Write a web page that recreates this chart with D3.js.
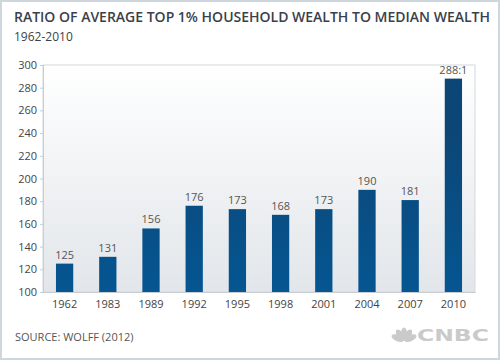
<!DOCTYPE html>
<html>
<head>
<meta charset="utf-8">
<script src="https://cdn.jsdelivr.net/npm/d3@7"></script>
<style>
  body { margin: 0; background: #fff; }
  svg { display: block; font-family: "Open Sans", sans-serif; }
</style>
</head>
<body>
<div id="chart"></div>
<script>
// data
const years = ["1962", "1983", "1989", "1992", "1995", "1998", "2001", "2004", "2007", "2010"];
const ratios = [125, 131, 156, 176, 173, 168, 173, 190, 181, 288];
const valueLabels = ["125", "131", "156", "176", "173", "168", "173", "190", "181", "288:1"];
const yTicks = [100, 120, 140, 160, 180, 200, 220, 240, 260, 280, 300];

const W = 500, H = 360;
const margin = { top: 65, right: 25, bottom: 68, left: 43 };
const width = W - margin.left - margin.right,
	height = H - margin.top - margin.bottom;

const svg = d3.select("#chart")
	.append("svg")
	.attr("width", W)
	.attr("height", H);

const defs = svg.append("defs");
const bg = defs.append("linearGradient").attr("id", "bg")
	.attr("x1", 0).attr("y1", 0).attr("x2", 0).attr("y2", 1);
bg.append("stop").attr("offset", "0%").attr("stop-color", "#ffffff");
bg.append("stop").attr("offset", "100%").attr("stop-color", "#e2e6ea");

const barGrad = defs.append("linearGradient").attr("id", "bar")
	.attr("gradientUnits", "userSpaceOnUse")
	.attr("x1", 0).attr("y1", margin.top).attr("x2", 0).attr("y2", margin.top + height);
barGrad.append("stop").attr("offset", "0%").attr("stop-color", "#0c4676");
barGrad.append("stop").attr("offset", "100%").attr("stop-color", "#025c9d");

// outer frame
svg.append("rect")
	.attr("x", 1).attr("y", 1)
	.attr("width", W - 2).attr("height", H - 2)
	.attr("fill", "#fff")
	.attr("stroke", "#cfd7de")
	.attr("stroke-width", 2);

// titles
svg.append("text")
	.attr("x", 14).attr("y", 22)
	.attr("font-size", 14)
	.attr("font-weight", 600)
	.attr("fill", "#3b3f4a")
	.attr("textLength", 476)
	.attr("lengthAdjust", "spacingAndGlyphs")
	.text("RATIO OF AVERAGE TOP 1% HOUSEHOLD WEALTH TO MEDIAN WEALTH");

svg.append("text")
	.attr("x", 14).attr("y", 41)
	.attr("font-size", 12)
	.attr("fill", "#3b3f4a")
	.text("1962-2010");

const g = svg.append("g")
	.attr("transform", `translate(${margin.left},${margin.top})`);

// scales
const x = d3.scaleBand()
	.domain(years)
	.range([0, width])
	.paddingInner(0.6)
	.paddingOuter(0.3);

const y = d3.scaleLinear()
	.domain([100, 300])
	.range([height, 0]);

// plot background
g.append("rect")
	.attr("width", width)
	.attr("height", height)
	.attr("fill", "url(#bg)")
	.attr("stroke", "#d3d8dc");

// bars
g.selectAll("rect.bar")
	.data(ratios)
	.enter().append("rect")
	.attr("class", "bar")
	.attr("x", (d, i) => x(years[i]))
	.attr("y", d => y(d))
	.attr("width", x.bandwidth())
	.attr("height", d => height - y(d))
	.attr("fill", "url(#bar)");

// value labels
g.selectAll("text.val")
	.data(ratios)
	.enter().append("text")
	.attr("class", "val")
	.attr("x", (d, i) => x(years[i]) + x.bandwidth() / 2)
	.attr("y", d => y(d) - 5)
	.attr("text-anchor", "middle")
	.attr("font-size", 11)
	.attr("fill", "#555")
	.text((d, i) => valueLabels[i]);

// y axis
const yAxis = g.append("g")
	.call(d3.axisLeft(y).tickValues(yTicks).tickSize(3).tickPadding(3));
yAxis.select(".domain").attr("stroke", "#c8cdd2");
yAxis.selectAll(".tick line").attr("stroke", "#c8cdd2");
yAxis.selectAll(".tick text").attr("font-size", 11).attr("fill", "#444")
	.attr("font-family", "\"Open Sans\", sans-serif");

// x axis
const xAxis = g.append("g")
	.attr("transform", `translate(0,${height})`)
	.call(d3.axisBottom(x).tickSize(0).tickPadding(8));
xAxis.select(".domain").attr("stroke", "#c8cdd2");
xAxis.selectAll(".tick text").attr("font-size", 11).attr("fill", "#444")
	.attr("font-family", "\"Open Sans\", sans-serif");

// source
svg.append("text")
	.attr("x", 15).attr("y", 341)
	.attr("font-size", 11)
	.attr("fill", "#555")
	.text("SOURCE: WOLFF (2012)");

// logo
const logo = svg.append("g").attr("fill", "#cacaca");
const peacock = logo.append("g").attr("transform", "translate(404,341)");
[-66, -33, 0, 33, 66].forEach(a => {
	peacock.append("ellipse")
		.attr("cx", 0).attr("cy", -7)
		.attr("rx", 3.2).attr("ry", 6.5)
		.attr("transform", `rotate(${a})`);
});
logo.append("text")
	.attr("x", 489).attr("y", 341)
	.attr("text-anchor", "end")
	.attr("font-size", 16)
	.attr("font-weight", "bold")
	.attr("font-family", "\"DejaVu Sans\", sans-serif")
	.attr("textLength", 72)
	.attr("lengthAdjust", "spacingAndGlyphs")
	.text("CNBC");
</script>
</body>
</html>
